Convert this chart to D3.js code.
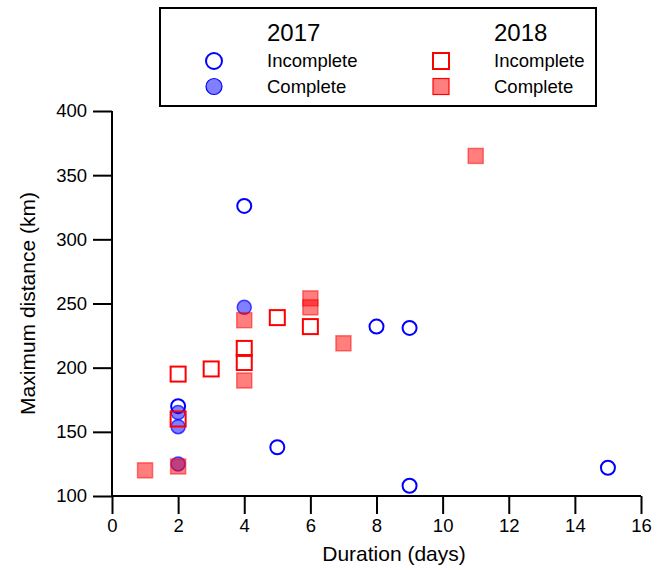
<!DOCTYPE html>
<html>
<head>
<meta charset="utf-8">
<script src="https://cdn.jsdelivr.net/npm/d3@7"></script>
<style>
  html, body { margin: 0; padding: 0; background: #fff; }
  svg { display: block; font-family: "Liberation Sans", Arial, sans-serif; }
</style>
</head>
<body>
<svg id="chart" width="667" height="570"></svg>
<script>
// ---- data ----
const inc17X = [4, 2, 5, 8, 9, 9, 15];
const inc17Y = [326, 170, 138, 232, 231, 108, 122];
const comp17X = [4, 2, 2, 2];
const comp17Y = [247, 165, 154, 125];
const inc18X = [2, 3, 4, 4, 5, 6, 2];
const inc18Y = [195, 199, 215, 204, 239, 232, 160];
const comp18X = [1, 2, 4, 4, 6, 6, 7, 11];
const comp18Y = [120, 123, 237, 190, 254, 247, 219, 365];
const xTicks = [0, 2, 4, 6, 8, 10, 12, 14, 16];
const yTicks = [100, 150, 200, 250, 300, 350, 400];
const legendYears = ["2017", "2018"];
const legendLabels = ["Incomplete", "Complete"];

const svg = d3.select("#chart");
const x = d3.scaleLinear().domain([0, 16]).range([112, 641]);
const y = d3.scaleLinear().domain([100, 400]).range([496, 111]);

// axes
const xAxis = svg.append("g").attr("transform", "translate(0,496)")
  .call(d3.axisBottom(x).tickValues(xTicks).tickSize(18).tickPadding(5).tickFormat(d3.format("d")));
const yAxis = svg.append("g").attr("transform", "translate(112,0)")
  .call(d3.axisLeft(y).tickValues(yTicks).tickSize(19).tickPadding(6).tickFormat(d3.format("d")));
[xAxis, yAxis].forEach(g => {
  g.select(".domain").attr("stroke", "#000").attr("stroke-width", 2);
  g.selectAll(".tick line").attr("stroke", "#000").attr("stroke-width", 2);
  g.selectAll(".tick text").attr("fill", "#000").style("font-size", "18.5px")
    .style("font-family", "'Liberation Sans', Arial, sans-serif");
});
xAxis.select(".domain").attr("d", `M${x(0)},0H${x(16)}`);
yAxis.select(".domain").attr("d", `M0,${y(100)}V${y(400)}`);

svg.append("text").attr("x", 394).attr("y", 561)
  .attr("text-anchor", "middle").style("font-size", "21px").text("Duration (days)");
svg.append("text").attr("transform", `translate(35,${(y(100) + y(400)) / 2}) rotate(-90)`)
  .attr("text-anchor", "middle").style("font-size", "21px").text("Maximum distance (km)");

const BLUE = "#0000ff", RED = "#ff0000";
const zip = (a, b) => a.map((v, i) => [v, b[i]]);
const R = 7, S = 15;

// 2017 complete (filled circles)
svg.append("g").selectAll("circle").data(zip(comp17X, comp17Y)).join("circle")
  .attr("cx", d => x(d[0])).attr("cy", d => y(d[1])).attr("r", R)
  .attr("fill", BLUE).attr("fill-opacity", 0.5).attr("stroke", BLUE).attr("stroke-opacity", 0.7).attr("stroke-width", 1.5);
// 2017 incomplete (open circles)
svg.append("g").selectAll("circle").data(zip(inc17X, inc17Y)).join("circle")
  .attr("cx", d => x(d[0])).attr("cy", d => y(d[1])).attr("r", R)
  .attr("fill", "none").attr("stroke", BLUE).attr("stroke-width", 2);
// 2018 complete (filled squares)
svg.append("g").selectAll("rect").data(zip(comp18X, comp18Y)).join("rect")
  .attr("x", d => x(d[0]) - S / 2).attr("y", d => y(d[1]) - S / 2).attr("width", S).attr("height", S)
  .attr("fill", RED).attr("fill-opacity", 0.5).attr("stroke", RED).attr("stroke-opacity", 0.5).attr("stroke-width", 1.5);
// 2018 incomplete (open squares)
svg.append("g").selectAll("rect").data(zip(inc18X, inc18Y)).join("rect")
  .attr("x", d => x(d[0]) - S / 2).attr("y", d => y(d[1]) - S / 2).attr("width", S).attr("height", S)
  .attr("fill", "none").attr("stroke", RED).attr("stroke-width", 2);

// legend
const lg = svg.append("g");
lg.append("rect").attr("x", 160).attr("y", 8).attr("width", 436).attr("height", 98)
  .attr("fill", "#fff").attr("stroke", "#000").attr("stroke-width", 2);
const colX = [267, 494];
const markX = [214, 441];
legendYears.forEach((yr, i) => {
  lg.append("text").attr("x", colX[i]).attr("y", 41).style("font-size", "24px").text(yr);
  legendLabels.forEach((lab, j) => {
    lg.append("text").attr("x", colX[i]).attr("y", 67 + j * 25.5).style("font-size", "18.5px").text(lab);
    const cy = 61 + j * 25.5;
    if (i === 0) {
      lg.append("circle").attr("cx", markX[i]).attr("cy", cy).attr("r", 8)
        .attr("fill", j === 0 ? "none" : BLUE).attr("fill-opacity", 0.5)
        .attr("stroke", BLUE).attr("stroke-width", j === 0 ? 2 : 1.2);
    } else {
      lg.append("rect").attr("x", markX[i] - 8).attr("y", cy - 8).attr("width", 16).attr("height", 16)
        .attr("fill", j === 0 ? "none" : RED).attr("fill-opacity", 0.5)
        .attr("stroke", RED).attr("stroke-width", j === 0 ? 2 : 1.2);
    }
  });
});
</script>
</body>
</html>
